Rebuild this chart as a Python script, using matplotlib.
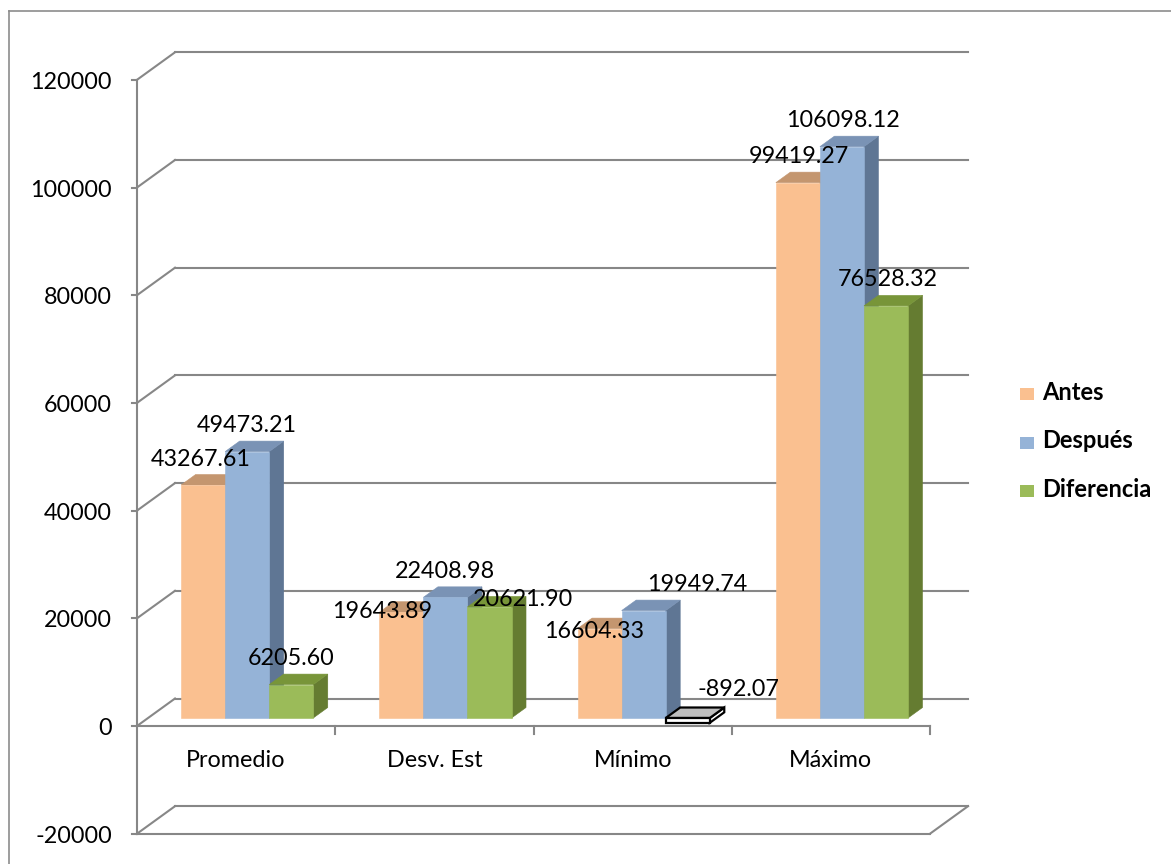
import matplotlib
matplotlib.use("Agg")
import matplotlib.pyplot as plt
from matplotlib.patches import Polygon, Rectangle
from matplotlib.lines import Line2D

# ---------------- data ----------------
categories = ["Promedio", "Desv. Est", "Mínimo", "Máximo"]
series_names = ["Antes", "Después", "Diferencia"]
antes = [43267.61, 19643.89, 16604.33, 99419.27]
despues = [49473.21, 22408.98, 19949.74, 106098.12]
diferencia = [6205.60, 20621.90, -892.07, 76528.32]
yticks = [-20000, 0, 20000, 40000, 60000, 80000, 100000, 120000]

# ---------------- style ----------------
front_colors = ["#FAC090", "#95B3D7", "#9BBB59"]
top_colors = ["#C4966F", "#7A93B5", "#789539"]
side_colors = ["#B8875F", "#5F7694", "#657C31"]
grid_color = "#878787"
FONT = "Lato"
FS = 16.8

# label offsets (pixels: dx right, dy up from default position)
label_dx = [[-2, -19, -5, 1], [0, 0, 54, 1], [0, 34, 51, 2]]
label_dy = [[0, -25, -29, 0], [0, 0, 0, 0], [0, -19, 2, 0]]

W, H = 1171, 864
fig = plt.figure(figsize=(W / 100, H / 100), dpi=100)
ax = fig.add_axes([0, 0, 1, 1])

# pixel geometry of the 3-D frame
X0_PX = 137.0          # front left of plot
CAT_PX = 198.25        # pixels per category
V0_PX = 726.0          # front y pixel of value 0
VPX = 107.7 / 20000.0  # pixels per value unit
DEPTH_DX = 38.0        # back-wall offset (px)
DEPTH_DY = 27.5

ax.set_xlim(-X0_PX / CAT_PX, (W - X0_PX) / CAT_PX)
ax.set_ylim((V0_PX - H) / VPX, V0_PX / VPX)
ax.axis("off")

DX = DEPTH_DX / CAT_PX
DV = DEPTH_DY / VPX
PXX = 1.0 / CAT_PX     # data units per pixel in x
PXV = 1.0 / VPX        # data units per pixel in y


def pt(x, v, f):
    return (x + f * DX, v + f * DV)


ncat = len(categories)
ymin, ymax = yticks[0], yticks[-1]
glw = 1.5

# back wall gridlines + left side wall diagonals
for v in yticks:
    ax.add_line(Line2D(*zip(pt(0, v, 1), pt(ncat, v, 1)), color=grid_color, lw=glw, zorder=1))
    ax.add_line(Line2D(*zip(pt(0, v, 0), pt(0, v, 1)), color=grid_color, lw=glw, zorder=1))
    # y ticks
    ax.add_line(Line2D([-5 * PXX, 0], [v, v], color=grid_color, lw=glw, zorder=1))
    ax.text(-25 * PXX, v - 9 * PXV, f"{v}", ha="right", va="baseline",
            fontsize=FS, family=FONT, color="black")

# front y axis
ax.add_line(Line2D([0, 0], [ymin, ymax], color=grid_color, lw=glw, zorder=1))
# floor front edge and right diagonal
ax.add_line(Line2D([0, ncat], [ymin, ymin], color=grid_color, lw=glw, zorder=1))
ax.add_line(Line2D(*zip(pt(ncat, ymin, 0), pt(ncat, ymin, 1)), color=grid_color, lw=glw, zorder=1))
# category axis at 0
ax.add_line(Line2D([0, ncat], [0, 0], color=grid_color, lw=glw, zorder=1))
for i in range(1, ncat + 1):
    ax.add_line(Line2D([i, i], [0, -8 * PXV], color=grid_color, lw=glw, zorder=1))
for i, c in enumerate(categories):
    ax.text(i + 0.5, -41 * PXV, c, ha="center", va="baseline", fontsize=FS,
            family=FONT, color="black")

# bars
F0 = 8.0 / DEPTH_DY
FD = 14.5 / DEPTH_DX
BW = 1.0 / 4.5
GAP = 0.75 / 4.5
data = [antes, despues, diferencia]
z = 3
for i in range(ncat):
    for j in range(3):
        v = data[j][i]
        x0 = i + GAP + j * BW
        x1 = x0 + BW
        lo, hi = (0, v) if v >= 0 else (v, 0)
        if v >= 0:
            fc, tc, sc, ec, lw = front_colors[j], top_colors[j], side_colors[j], None, 0.4
        else:
            fc, tc, sc, ec, lw = "white", "#BEBEBE", "white", "black", 1.6
        front = [pt(x0, lo, F0), pt(x1, lo, F0), pt(x1, hi, F0), pt(x0, hi, F0)]
        top = [pt(x0, hi, F0), pt(x1, hi, F0), pt(x1, hi, F0 + FD), pt(x0, hi, F0 + FD)]
        side = [pt(x1, lo, F0), pt(x1, lo, F0 + FD), pt(x1, hi, F0 + FD), pt(x1, hi, F0)]
        for poly, col in ((side, sc), (top, tc), (front, fc)):
            ax.add_patch(Polygon(poly, closed=True, facecolor=col,
                                 edgecolor=(ec if ec else col), lw=lw, zorder=z,
                                 joinstyle="miter"))
        z += 1

# data labels
for i in range(ncat):
    for j in range(3):
        v = data[j][i]
        x0 = i + GAP + j * BW
        xc, yt = pt(x0 + BW / 2, max(v, 0), F0)
        ax.text(xc + label_dx[j][i] * PXX, yt + (19.5 + label_dy[j][i]) * PXV,
                f"{v:.2f}", ha="center", va="baseline", fontsize=FS,
                family=FONT, color="black", zorder=50)

# legend
leg_x = 1020
for k, name in enumerate(series_names):
    base = 400 + k * 48.5
    fig.patches.append(Rectangle((leg_x / W, 1 - base / H), 14 / W, 12 / H,
                                 transform=fig.transFigure, facecolor=front_colors[k],
                                 edgecolor="none"))
    fig.text(1042 / W, 1 - base / H, name, ha="left", va="baseline", fontsize=17,
             fontweight="bold", family=FONT, color="black")

# chart border
fig.add_artist(Line2D([9 / W, 9 / W], [0, 1 - 11 / H], transform=fig.transFigure,
                      color="#8C8C8C", lw=1.2))
fig.add_artist(Line2D([9 / W, 1], [1 - 11 / H, 1 - 11 / H], transform=fig.transFigure,
                      color="#8C8C8C", lw=1.2))

fig.savefig("out.png", dpi=100, facecolor="white")
